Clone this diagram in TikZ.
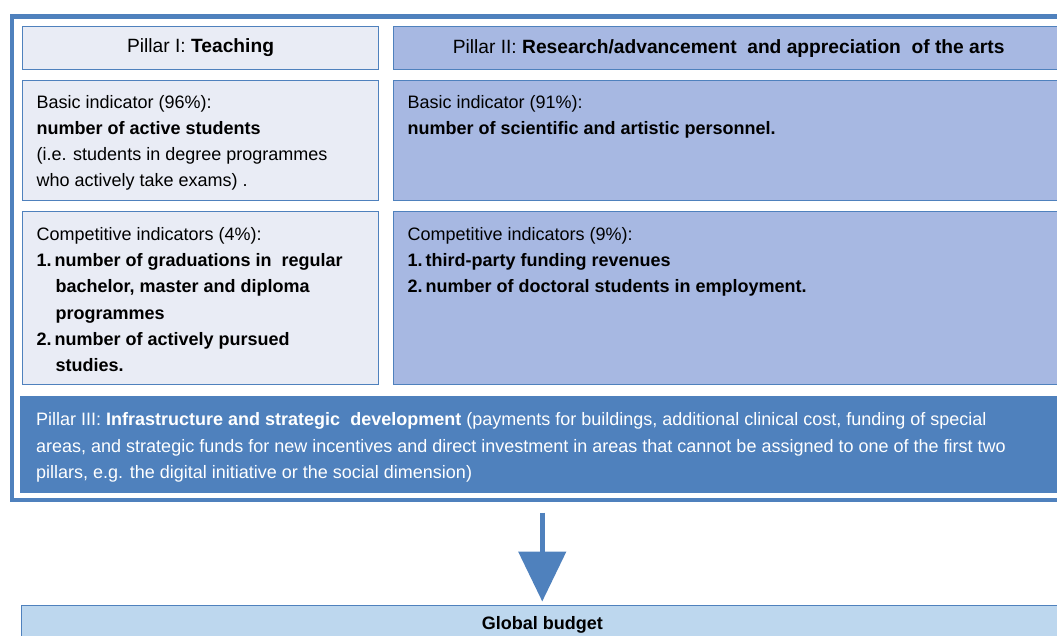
\documentclass[tikz,border=0pt]{standalone}
\usepackage{fontspec}
\setmainfont{Liberation Sans}
\usetikzlibrary{positioning,arrows.meta}
\definecolor{pillarblue}{HTML}{4F81BD}
\definecolor{teachfill}{HTML}{E9ECF5}
\definecolor{researchfill}{HTML}{A7B8E2}
\definecolor{budgetfill}{HTML}{BDD7EE}
% fixed-size cell, text starting at the top
\newcommand{\cellbody}[4][9pt]{\parbox[c][#2][t]{#3}{\vspace*{#1}\strut #4}}

\begin{document}
\begin{tikzpicture}[
    x=1pt, y=1pt,
    node distance=10pt,
    every node/.style={font=\fontsize{18}{26.3}\selectfont},
    cell/.style={rectangle, draw=pillarblue, line width=1.1pt, inner xsep=14pt, inner ysep=0pt},
    head/.style={cell, minimum height=43pt, align=center, font=\fontsize{19.2}{24}\selectfont},
    teach/.style={fill=teachfill},
    research/.style={fill=researchfill},
    infra/.style={rectangle, fill=pillarblue, text=white, inner xsep=16pt, inner ysep=0pt},
    frame/.style={rectangle, draw=pillarblue, line width=4.5pt},
    budget/.style={rectangle, draw=pillarblue, line width=1.1pt, fill=budgetfill,
                   minimum width=1042pt, minimum height=40pt},
    arrow/.style={-{Triangle[width=47pt,length=50pt]}, draw=pillarblue, line width=5pt}
]
\useasboundingbox (0,0) rectangle (1057,-636);
\clip (0,0) rectangle (1057,-636);

\node[frame, minimum width=1061pt, minimum height=483pt, anchor=north west] (frame) at (9.5,-14.5) {};

\node[head, teach, minimum width=356pt, anchor=north west] (head1) at (22,-26) {Pillar I: \textbf{Teaching}};
\node[head, research, minimum width=670pt, right=14pt of head1] (head2)
    {Pillar II: \textbf{Research/advancement\ \ and appreciation\ \ of the arts}};

\node[cell, teach, below=of head1] (basic1) {\cellbody{120pt}{328pt}{Basic indicator (96\%):\\
    \textbf{number of active students}\\
    (i.e. students in degree programmes\\
    who actively take exams) .}};
\node[cell, research, right=14pt of basic1] (basic2) {\cellbody{120pt}{642pt}{Basic indicator (91\%):\\
    \textbf{number of scientific and artistic personnel.}}};

\node[cell, teach, below=of basic1] (comp1) {\cellbody[10pt]{173pt}{328pt}{Competitive indicators (4\%):\\
    \textbf{1.\,number of graduations in\ \ regular}\\
    \hspace*{19pt}\textbf{bachelor, master and diploma}\\
    \hspace*{19pt}\textbf{programmes}\\
    \textbf{2.\,number of actively pursued}\\
    \hspace*{19pt}\textbf{studies.}}};
\node[cell, research, right=14pt of comp1] (comp2) {\cellbody[10pt]{173pt}{642pt}{Competitive indicators (9\%):\\
    \textbf{1.\,third-party funding revenues}\\
    \textbf{2.\,number of doctoral students in employment.}}};

\node[infra, below=of comp1.south west, anchor=north west, xshift=-2pt] (pillar3)
    {\cellbody[12pt]{97pt}{1010pt}{Pillar III: \textbf{Infrastructure and strategic\ \ development} (payments for buildings, additional clinical cost, funding of special\\
    areas, and strategic funds for new incentives and direct investment in areas that cannot be assigned to one of the first two\\
    pillars, e.g. the digital initiative or the social dimension)}};

\node[budget, below=102.5pt of frame.south] (budget) {\textbf{Global budget}};

\draw[arrow, shorten <=10.5pt, shorten >=3pt] (frame.south) -- (budget.north);
\end{tikzpicture}
\end{document}
